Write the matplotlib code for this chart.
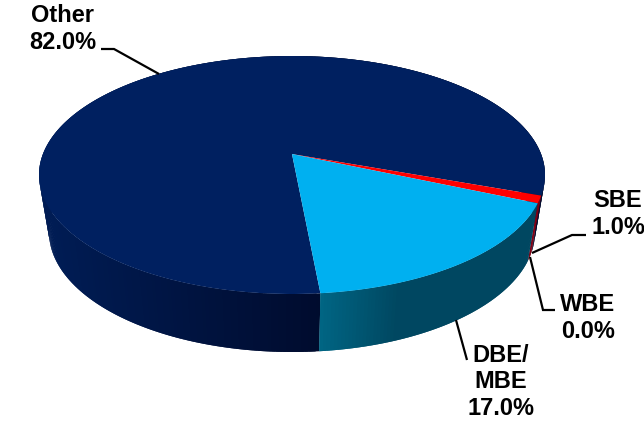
import numpy as np
import matplotlib
matplotlib.use('Agg')
import matplotlib.pyplot as plt
from matplotlib.patches import Polygon

# Pie shares in drawing order (clockwise from the SBE edge)
categories = ['SBE', 'DBE/\nMBE', 'WBE', 'Other']
shares = [1.0, 17.0, 0.0, 82.0]
top_colors = ['#FF0000', '#00B0F0', '#C00000', '#002060']
side_left = [(0.50, 0.0, 0.08), (0.0, 0.40, 0.52), (0.5, 0.0, 0.08), (0.0, 0.11, 0.33)]
side_right = [(0.50, 0.0, 0.08), (0.0, 0.28, 0.38), (0.5, 0.0, 0.08), (0.0, 0.045, 0.18)]

# Fake perspective: top rim, bottom rim, and how far the apex sits above the rim centre
cx = 292
top_cy, top_rx, top_ry = 175, 253, 119
bot_cy, bot_rx, bot_ry = 232, 243, 120
apex_shift = 0.176
start_angle = -19.8


def to_rim(theta):
    # moves the circle centre to the apex, the circle itself stays put
    x, y = np.cos(theta), np.sin(theta)
    d = apex_shift
    denom = 1 + d * y
    return x * np.sqrt(1 - d ** 2) / denom, (y + d) / denom


def side_color(i, x):
    # shading runs left to right across the visible part of the slice
    if i == 3:
        f = np.clip((x - 49) / (319 - 49), 0, 1)
    else:
        f = np.clip((x - 319) / 80, 0, 1)
    left = np.array(side_left[i])
    right = np.array(side_right[i])
    return tuple(left + (right - left) * f)


fig = plt.figure(figsize=(6.44, 4.25), dpi=100)
ax = fig.add_axes([0, 0, 1, 1])
ax.set_xlim(0, 644)
ax.set_ylim(425, 0)
ax.axis('off')

edges = start_angle - np.cumsum([0] + shares) * 3.6
draw_order = [3, 0, 1]

# Side wall first, the top face covers whatever is behind it
for i in draw_order:
    thetas = np.radians(np.linspace(edges[i], edges[i + 1], max(3, int(shares[i] * 5))))
    X, Y = to_rim(thetas)
    top_x = cx + top_rx * X
    top_y = top_cy - top_ry * Y
    bot_x = cx + bot_rx * X
    bot_y = bot_cy - bot_ry * Y
    n = len(thetas)
    # each strip reaches over the next one so no white seams show between them
    for j in range(n - 1):
        k = min(j + 2, n - 1)
        seg = range(j, k + 1)
        quad = [(top_x[m], top_y[m]) for m in seg] + [(bot_x[m], bot_y[m]) for m in reversed(seg)]
        c = side_color(i, (top_x[j] + top_x[j + 1]) / 2)
        ax.add_patch(Polygon(quad, closed=True, fc=c, ec='none', zorder=1 + draw_order.index(i)))

# Top face
for i in draw_order:
    thetas = np.radians(np.linspace(edges[i], edges[i + 1], max(8, int(shares[i] * 8))))
    X, Y = to_rim(thetas)
    pts = [(cx, top_cy - top_ry * apex_shift)] + list(zip(cx + top_rx * X, top_cy - top_ry * Y))
    ax.add_patch(Polygon(pts, closed=True, fc=top_colors[i], ec='none', zorder=5 + draw_order.index(i)))

# Leader lines
leaders = [
    ([101, 114, 159], [49, 49, 74]),
    ([586, 572, 532], [235, 235, 253]),
    ([555, 543, 530], [310, 310, 257]),
    ([467, 456], [360, 320]),
]
for lx, ly in leaders:
    ax.plot(lx, ly, color='black', lw=1.6, solid_capstyle='butt', solid_joinstyle='miter', zorder=10)

# Labels
label_pos = {'SBE': (618, 214), 'DBE/\nMBE': (501, 382), 'WBE': (588, 318), 'Other': (63, 29)}
for name, val in zip(categories, shares):
    lx, ly = label_pos[name]
    ax.text(lx, ly, f'{name}\n{val:.1f}%', ha='center', va='center', multialignment='center',
            fontsize=17, fontweight='bold', family='Liberation Sans', linespacing=1.17, zorder=11)

fig.savefig('out.png', dpi=100)
